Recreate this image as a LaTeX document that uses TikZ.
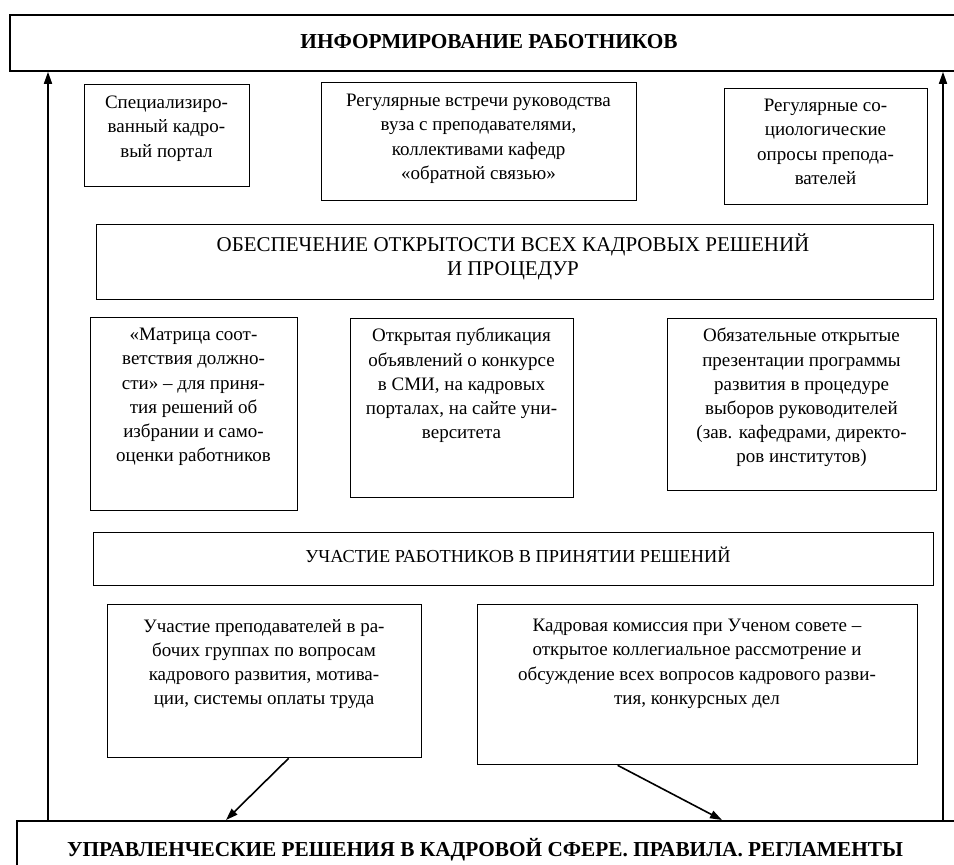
\documentclass[tikz,border=0pt]{standalone}
\usepackage{fontspec}
\setmainfont{Liberation Serif}
\usetikzlibrary{arrows.meta}

\tikzset{
  box/.style={draw=black, line width=1.3pt, anchor=north west, inner sep=0pt},
  bigbox/.style={draw=black, line width=1.8pt, anchor=north west, inner sep=0pt},
  txt/.style={anchor=north, align=center, inner sep=0pt,
    font=\fontsize{19}{24.2}\selectfont},
  ttl/.style={anchor=base, inner sep=0pt,
    font=\bfseries\fontsize{21.3}{24}\selectfont},
  arr/.style={line width=1.6pt, -{Triangle[length=12pt,width=8pt]}}
}

\begin{document}
\begin{tikzpicture}[x=1pt,y=-1pt]
\useasboundingbox (0,0) rectangle (954,865);
\begin{scope}
\clip (0,0) rectangle (954,865);

% top and bottom frames
\node[bigbox, minimum width=960pt, minimum height=56pt] (top) at (9,14) {};
\node[ttl] (toptxt) at (489,48) {ИНФОРМИРОВАНИЕ РАБОТНИКОВ};

\node[bigbox, minimum width=960pt, minimum height=80pt] (bot) at (16,820) {};
\node[ttl] (bottxt) at (485,856) {УПРАВЛЕНЧЕСКИЕ РЕШЕНИЯ В КАДРОВОЙ СФЕРЕ. ПРАВИЛА. РЕГЛАМЕНТЫ};

% first row
\node[box, minimum width=165pt, minimum height=102pt] (a) at (84,84) {};
\node[txt] (atxt) at (166.5,96) {Специализиро-\\ванный кадро-\\вый портал};

\node[box, minimum width=315pt, minimum height=118pt] (b) at (321,82) {};
\node[txt] (btxt) at (478.5,94) {Регулярные встречи руководства\\вуза с преподавателями,\\коллективами кафедр\\«обратной связью»};

\node[box, minimum width=203pt, minimum height=116pt] (c) at (724,88) {};
\node[txt] (ctxt) at (825.5,99) {Регулярные со-\\циологические\\опросы препода-\\вателей};

% openness band
\node[box, minimum width=837pt, minimum height=75pt] (band1) at (96,224) {};
\node[txt, font=\fontsize{21}{24.2}\selectfont] (band1txt) at (513,233) {ОБЕСПЕЧЕНИЕ ОТКРЫТОСТИ ВСЕХ КАДРОВЫХ РЕШЕНИЙ\\И ПРОЦЕДУР};

% second row
\node[box, minimum width=207pt, minimum height=193pt] (d) at (90,317) {};
\node[txt] (dtxt) at (193.5,328) {«Матрица соот-\\ветствия должно-\\сти» – для приня-\\тия решений об\\избрании и само-\\оценки работников};

\node[box, minimum width=223pt, minimum height=179pt] (e) at (350,318) {};
\node[txt] (etxt) at (461.5,328) {Открытая публикация\\объявлений о конкурсе\\в СМИ, на кадровых\\порталах, на сайте уни-\\верситета};

\node[box, minimum width=269pt, minimum height=172pt] (f) at (667,318) {};
\node[txt] (ftxt) at (801.5,328) {Обязательные открытые\\презентации программы\\развития в процедуре\\выборов руководителей\\(зав. кафедрами, директо-\\ров институтов)};

% participation band
\node[box, minimum width=840pt, minimum height=53pt] (band2) at (93,532) {};
\node[txt, font=\fontsize{18.3}{24}\selectfont] (band2txt) at (518,547) {УЧАСТИЕ РАБОТНИКОВ В ПРИНЯТИИ РЕШЕНИЙ};

% third row
\node[box, minimum width=314pt, minimum height=153pt] (g) at (107,604) {};
\node[txt] (gtxt) at (264,619) {Участие преподавателей в ра-\\бочих группах по вопросам\\кадрового развития, мотива-\\ции, системы оплаты труда};

\node[box, minimum width=440pt, minimum height=160pt] (h) at (477,604) {};
\node[txt] (htxt) at (697,619) {Кадровая комиссия при Ученом совете –\\открытое коллегиальное рассмотрение и\\обсуждение всех вопросов кадрового разви-\\тия, конкурсных дел};

% connectors
\coordinate (vl) at (48,820);
\coordinate (vr) at (943,820);
\coordinate (tipg) at (226,820);
\coordinate (tiph) at (722,820);
\draw[arr] (vl) -- (vl |- top.south);
\draw[arr] (vr) -- (vr |- top.south);
\draw[arr] ([xshift=24pt]g.south) -- (tipg);
\draw[arr] ([xshift=-80pt]h.south) -- (tiph);
\end{scope}
\end{tikzpicture}
\end{document}
